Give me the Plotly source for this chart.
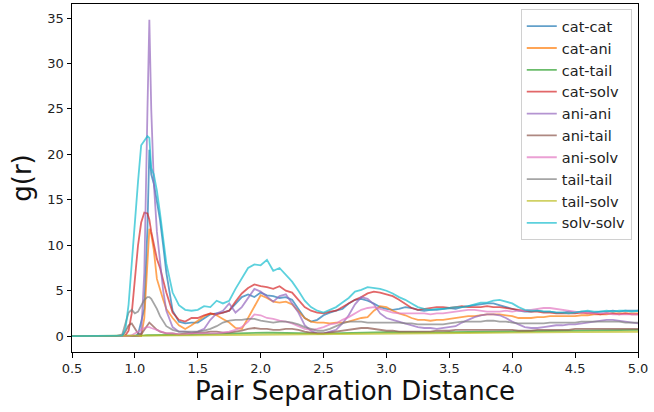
import plotly.graph_objects as go

r = [0.5, 0.85, 0.9, 0.925, 0.95, 0.975, 1.0, 1.025, 1.05, 1.075, 1.1, 1.115, 1.13, 1.15, 1.175, 1.2, 1.225, 1.25, 1.3, 1.35,
     1.40, 1.45, 1.50, 1.55, 1.60, 1.65, 1.70, 1.75, 1.80, 1.85,
     1.90, 1.95, 2.00, 2.05, 2.10, 2.15, 2.20, 2.25, 2.30, 2.35,
     2.40, 2.45, 2.50, 2.55, 2.60, 2.65, 2.70, 2.75, 2.80, 2.85,
     2.90, 2.95, 3.00, 3.05, 3.10, 3.15, 3.20, 3.25, 3.30, 3.35,
     3.40, 3.45, 3.50, 3.55, 3.60, 3.65, 3.70, 3.75, 3.80, 3.85,
     3.90, 3.95, 4.00, 4.05, 4.10, 4.15, 4.20, 4.25, 4.30, 4.35,
     4.40, 4.45, 4.50, 4.55, 4.60, 4.65, 4.70, 4.75, 4.80, 4.85,
     4.90, 4.95, 5.00]

cat_cat = [0, 0, 0, 0, 0, 0, 0, 0.2, 1.5, 3.0, 12.0, 20.5, 17.8, 16.8, 14.8, 12.8, 10.0, 7.0, 2.8, 1.6,
           1.4, 1.5, 1.5, 2.0, 2.4, 2.5, 2.6, 2.8, 3.5, 4.3,
           4.6, 4.3, 4.8, 4.5, 4.4, 4.2, 4.3, 4.0, 3.0, 2.0,
           1.6, 1.8, 2.3, 2.6, 2.8, 3.0, 3.6, 4.0, 4.1, 3.9,
           3.6, 3.2, 3.0, 2.9, 3.0, 3.2, 3.1, 2.9, 2.8, 2.9,
           2.9, 3.0, 3.1, 3.0, 3.2, 3.3, 3.4, 3.5, 3.6, 3.6,
           3.4, 3.2, 3.0, 2.8, 2.7, 2.7, 2.8, 2.7, 2.7, 2.6,
           2.6, 2.7, 2.6, 2.7, 2.7, 2.6, 2.7, 2.7, 2.8, 2.7,
           2.8, 2.8, 2.8]

cat_ani = [0, 0, 0, 0, 0, 0, 0, 0, 0, 2.0, 9.0, 11.8, 11.2, 9.5, 6.3, 5.0, 4.0, 3.0, 2.0, 1.2,
           0.8, 1.2, 1.7, 2.2, 2.5, 2.3, 1.9, 1.5, 0.9, 0.8,
           2.0, 3.3, 4.5, 4.2, 3.8, 3.7, 3.8, 3.5, 2.7, 2.0,
           1.6, 1.5, 1.5, 1.4, 1.5, 1.5, 1.6, 1.8, 2.0, 2.1,
           2.8, 3.3, 3.2, 2.8, 2.5, 2.3, 2.0, 1.8, 1.8, 1.7,
           1.8, 1.8, 1.9, 2.0, 2.1, 2.2, 2.2, 2.3, 2.4, 2.4,
           2.4, 2.3, 2.2, 2.0, 2.0, 2.0, 2.1, 2.1, 2.2, 2.2,
           2.2, 2.2, 2.2, 2.3, 2.3, 2.4, 2.4, 2.4, 2.5, 2.5,
           2.5, 2.5, 2.5]

cat_tail = [0, 0, 0, 0, 0, 0, 0, 0.02, 0.05, 0.08, 0.1, 0.1, 0.1, 0.1, 0.12, 0.12, 0.13, 0.14, 0.15, 0.16,
            0.17, 0.18, 0.2, 0.22, 0.25, 0.28, 0.3, 0.32, 0.35, 0.38,
            0.4, 0.42, 0.42, 0.4, 0.38, 0.36, 0.35, 0.33, 0.3, 0.28,
            0.27, 0.27, 0.28, 0.3, 0.32, 0.35, 0.38, 0.4, 0.42, 0.43,
            0.44, 0.44, 0.44, 0.43, 0.42, 0.4, 0.4, 0.4, 0.4, 0.4,
            0.41, 0.42, 0.43, 0.44, 0.45, 0.46, 0.47, 0.48, 0.5, 0.5,
            0.5, 0.5, 0.5, 0.5, 0.5, 0.5, 0.52, 0.53, 0.55, 0.56,
            0.57, 0.58, 0.6, 0.6, 0.62, 0.63, 0.64, 0.65, 0.66, 0.67,
            0.68, 0.68, 0.7]

cat_solv = [0, 0, 0, 0.1, 0.6, 2.5, 6.5, 10.0, 12.5, 13.6, 13.5, 12.8, 11.5, 10.0, 8.5, 7.5, 6.2, 4.8, 2.6, 1.8,
            1.6, 2.0, 2.0, 2.3, 2.5, 2.4, 2.6, 2.8, 3.8, 4.7,
            5.3, 5.7, 5.5, 5.4, 5.2, 5.5, 5.0, 4.8, 4.0, 3.2,
            2.8, 2.6, 2.5, 2.7, 2.8, 3.2, 3.6, 4.0, 4.3, 4.7,
            4.9, 4.8, 4.6, 4.4, 4.0, 3.5, 3.1, 2.9, 3.0, 3.1,
            3.2, 3.2, 3.1, 3.2, 3.3, 3.2, 3.2, 3.2, 3.3, 3.2,
            3.2, 3.1, 3.0, 2.9, 2.8, 2.7, 2.7, 2.6, 2.6, 2.5,
            2.5, 2.5, 2.5, 2.6, 2.5, 2.5, 2.4, 2.5, 2.5, 2.4,
            2.5, 2.4, 2.4]

ani_ani = [0, 0, 0, 0, 0, 0, 0, 0, 0.3, 7.0, 25.0, 34.8, 25.0, 17.0, 11.5, 8.0, 5.0, 2.8, 1.0, 0.5,
           0.5, 0.4, 0.5, 0.8, 1.8, 2.5, 2.8, 3.6, 2.6, 3.2,
           4.2, 5.2, 4.9, 4.3, 3.8, 4.4, 4.6, 3.6, 2.6, 1.2,
           0.6, 0.3, 0.3, 0.5, 0.7, 1.4, 2.3, 3.5, 4.3, 4.1,
           3.5, 2.5, 2.0, 1.8, 1.6, 1.4, 1.2, 1.0, 0.9, 0.9,
           0.8, 0.9, 1.0, 1.1, 1.5, 1.8, 2.1, 2.3, 2.4, 2.4,
           2.3, 2.0, 1.6, 1.3, 1.0, 0.9, 0.9, 1.0, 1.1, 1.2,
           1.2, 1.3, 1.3, 1.4, 1.5, 1.6, 1.7, 1.8, 1.8, 1.7,
           1.6, 1.5, 1.4]

ani_tail = [0, 0, 0.05, 0.5, 1.2, 1.4, 0.9, 0.3, 0.2, 0.7, 1.3, 1.5, 1.3, 1.0, 0.7, 0.5, 0.4, 0.3, 0.3, 0.2,
            0.3, 0.3, 0.4, 0.4, 0.5, 0.5, 0.4, 0.4, 0.5, 0.6,
            0.8, 0.9, 0.8, 0.8, 0.7, 0.7, 0.8, 0.8, 0.7, 0.5,
            0.4, 0.3, 0.3, 0.4, 0.5, 0.6, 0.7, 0.8, 0.9, 0.9,
            0.8, 0.7, 0.6, 0.6, 0.5, 0.5, 0.5, 0.5, 0.5, 0.5,
            0.6, 0.6, 0.6, 0.7, 0.7, 0.7, 0.7, 0.7, 0.7, 0.7,
            0.7, 0.7, 0.7, 0.6, 0.6, 0.6, 0.7, 0.7, 0.7, 0.7,
            0.7, 0.7, 0.8, 0.8, 0.8, 0.8, 0.8, 0.8, 0.8, 0.8,
            0.8, 0.8, 0.8]

ani_solv = [0, 0, 0, 0, 0, 0.1, 0.3, 0.5, 0.7, 0.9, 1.0, 1.0, 0.9, 0.8, 0.6, 0.5, 0.4, 0.3, 0.3, 0.2,
            0.2, 0.3, 0.3, 0.3, 0.3, 0.3, 0.4, 0.5, 0.7, 1.0,
            1.6, 2.4, 2.3, 2.0, 1.9, 1.7, 1.6, 1.4, 1.1, 0.8,
            0.7, 0.8, 1.0, 1.3, 1.4, 1.8, 2.1, 2.5, 2.9, 3.1,
            3.2, 3.0, 2.8, 2.6, 2.5, 2.5, 2.5, 2.5, 2.5, 2.4,
            2.5, 2.5, 2.6, 2.7, 2.8, 2.9, 2.9, 2.8, 2.7, 2.7,
            2.7, 2.8, 2.7, 2.8, 2.8, 2.9, 3.0, 3.1, 3.1, 3.0,
            2.9, 2.8, 2.7, 2.6, 2.6, 2.5, 2.5, 2.5, 2.4, 2.4,
            2.4, 2.4, 2.4]

tail_tail = [0, 0, 0.2, 1.3, 2.6, 2.9, 2.5, 2.7, 3.3, 4.0, 4.3, 4.3, 4.1, 3.6, 3.0, 2.2, 1.6, 1.1, 0.7, 0.5,
             0.5, 0.5, 0.5, 0.6, 0.8, 1.1, 1.5, 1.7, 1.8, 1.8,
             1.9, 1.9, 1.7, 1.6, 1.5, 1.6, 1.6, 1.5, 1.3, 1.0,
             0.8, 0.6, 0.6, 0.8, 1.1, 1.4, 1.6, 1.6, 1.6, 1.5,
             1.5, 1.5, 1.5, 1.5, 1.5, 1.4, 1.4, 1.3, 1.3, 1.3,
             1.3, 1.3, 1.4, 1.5, 1.6, 1.6, 1.6, 1.6, 1.7, 1.7,
             1.6, 1.6, 1.5, 1.4, 1.4, 1.4, 1.4, 1.4, 1.5, 1.5,
             1.5, 1.5, 1.5, 1.6, 1.6, 1.6, 1.6, 1.6, 1.6, 1.6,
             1.5, 1.5, 1.5]

tail_solv = [0, 0, 0, 0, 0, 0, 0.01, 0.02, 0.03, 0.04, 0.05, 0.05, 0.05, 0.05, 0.06, 0.06, 0.06, 0.07, 0.07, 0.08,
             0.08, 0.09, 0.1, 0.1, 0.11, 0.12, 0.12, 0.13, 0.14, 0.15,
             0.15, 0.16, 0.17, 0.17, 0.18, 0.19, 0.19, 0.2, 0.2, 0.21,
             0.21, 0.22, 0.22, 0.23, 0.24, 0.24, 0.25, 0.26, 0.26, 0.27,
             0.28, 0.28, 0.29, 0.29, 0.3, 0.3, 0.31, 0.31, 0.32, 0.32,
             0.33, 0.33, 0.34, 0.34, 0.35, 0.35, 0.36, 0.36, 0.37, 0.37,
             0.38, 0.38, 0.39, 0.39, 0.4, 0.4, 0.41, 0.41, 0.42, 0.42,
             0.43, 0.43, 0.44, 0.44, 0.45, 0.45, 0.46, 0.46, 0.47, 0.47,
             0.48, 0.48, 0.49]

solv_solv = [0, 0, 0.05, 0.8, 3.5, 8.0, 13.0, 17.0, 21.0, 21.5, 22.0, 21.8, 18.5, 17.8, 16.0, 13.5, 11.0, 8.0, 4.8, 3.4,
             2.9, 2.8, 2.9, 3.3, 3.2, 3.9, 3.6, 3.9, 5.2, 6.3,
             7.5, 7.9, 7.8, 8.4, 7.2, 7.5, 6.8, 6.0, 5.0, 3.9,
             3.2, 2.8, 2.6, 2.9, 3.2, 3.7, 4.2, 4.9, 5.1, 5.4,
             5.3, 5.2, 5.0, 4.7, 4.3, 4.0, 3.6, 3.2, 3.0, 2.9,
             3.0, 3.0, 3.1, 3.2, 3.2, 3.3, 3.5, 3.7, 3.7, 3.9,
             4.0, 3.8, 3.6, 3.2, 2.9, 2.8, 2.8, 2.7, 2.7, 2.6,
             2.6, 2.5, 2.6, 2.7, 2.8, 2.7, 2.7, 2.8, 2.7, 2.8,
             2.8, 2.7, 2.8]

labels = ["cat-cat", "cat-ani", "cat-tail", "cat-solv", "ani-ani",
          "ani-tail", "ani-solv", "tail-tail", "tail-solv", "solv-solv"]
series = [cat_cat, cat_ani, cat_tail, cat_solv, ani_ani,
          ani_tail, ani_solv, tail_tail, tail_solv, solv_solv]
colors = ["rgba(31,119,180,0.7)", "rgba(255,127,14,0.7)", "rgba(44,160,44,0.7)",
          "rgba(214,39,40,0.7)", "rgba(148,103,189,0.7)", "rgba(140,86,75,0.7)",
          "rgba(227,119,194,0.7)", "rgba(127,127,127,0.7)", "rgba(188,189,34,0.7)",
          "rgba(23,190,207,0.7)"]

fig = go.Figure()
for lab, ys, c in zip(labels, series, colors):
    fig.add_trace(go.Scatter(x=r, y=ys, mode="lines", name=lab, legendgroup=lab,
                             line=dict(color=c, width=1.8)))

font_family = "DejaVu Sans"
fig.update_layout(
    width=654, height=412,
    margin=dict(l=72, r=16, t=4, b=60, autoexpand=False),
    paper_bgcolor="white", plot_bgcolor="white",
    font=dict(family=font_family, size=13, color="#222"),
    showlegend=True,
    legend=dict(x=0.989, y=0.985, xanchor="right", yanchor="top",
                bgcolor="rgba(255,255,255,0.8)", bordercolor="#d0d0d0", borderwidth=1,
                font=dict(family=font_family, size=14.5, color="#222"),
                tracegroupgap=0, itemwidth=30),
    xaxis=dict(range=[0.5, 5.0], tickvals=[0.5, 1.0, 1.5, 2.0, 2.5, 3.0, 3.5, 4.0, 4.5, 5.0],
               tickformat=".1f", showgrid=False, zeroline=False, automargin=False,
               showline=True, linecolor="black", linewidth=1, mirror=True,
               ticks="outside", ticklen=4.5, tickcolor="black", tickwidth=1,
               title=dict(text="Pair Separation Distance", font=dict(size=26, family=font_family, color="#111"), standoff=5)),
    yaxis=dict(range=[-1.74, 36.54], tickvals=[0, 5, 10, 15, 20, 25, 30, 35],
               showgrid=False, zeroline=False, automargin=False,
               showline=True, linecolor="black", linewidth=1, mirror=True,
               ticks="outside", ticklen=4.5, tickcolor="black", tickwidth=1,
               title=dict(text="g(r)", font=dict(size=26, family=font_family, color="#111"), standoff=8)),
)

fig.write_html("out.html", config={"displayModeBar": False},
               post_script="document.body.style.margin='0';document.body.style.padding='0';")
